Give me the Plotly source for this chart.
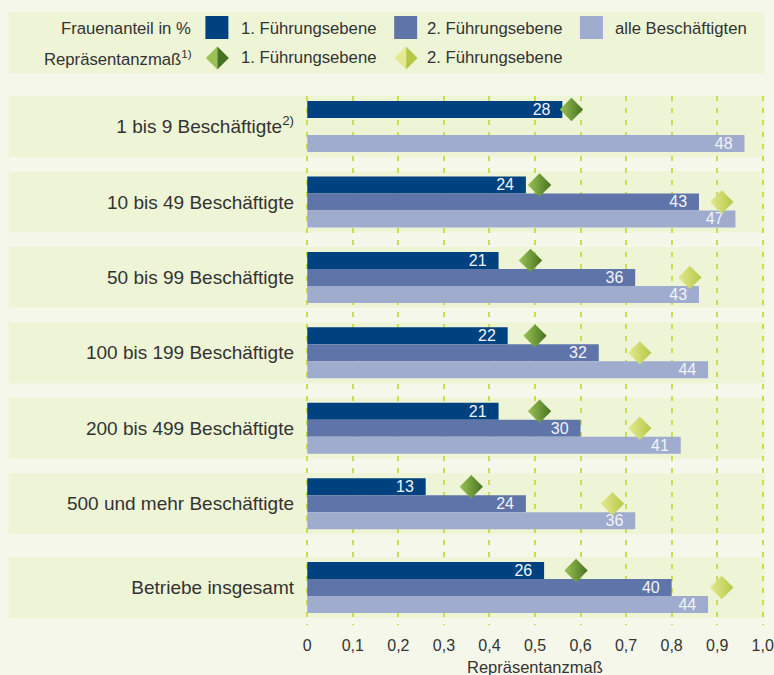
import plotly.graph_objects as go

# ---------------- data ----------------
categories = [
    "1 bis 9 Beschäftigte<sup>2)</sup>",
    "10 bis 49 Beschäftigte",
    "50 bis 99 Beschäftigte",
    "100 bis 199 Beschäftigte",
    "200 bis 499 Beschäftigte",
    "500 und mehr Beschäftigte",
    "Betriebe insgesamt",
]
share_level1 = [28, 24, 21, 22, 21, 13, 26]          # Frauenanteil in %, 1. Führungsebene
share_level2 = [None, 43, 36, 32, 30, 24, 40]        # Frauenanteil in %, 2. Führungsebene
share_all = [48, 47, 43, 44, 41, 36, 44]             # Frauenanteil in %, alle Beschäftigten
repr_level1 = [0.58, 0.51, 0.49, 0.50, 0.51, 0.36, 0.59]   # Repräsentanzmaß 1. Ebene
repr_level2 = [None, 0.91, 0.84, 0.73, 0.73, 0.67, 0.91]   # Repräsentanzmaß 2. Ebene
x_tick_vals = [0, 0.1, 0.2, 0.3, 0.4, 0.5, 0.6, 0.7, 0.8, 0.9, 1.0]
x_tick_labels = ["0", "0,1", "0,2", "0,3", "0,4", "0,5", "0,6", "0,7", "0,8", "0,9", "1,0"]
x_axis_title = "Repräsentanzmaß"
pct_axis_max = 50  # percent scale sharing the Repräsentanzmaß axis (1,0 ≙ 50 %)

# ---------------- style / geometry ----------------
W, H = 774, 675
UNIT_PX = 456                      # pixels per 1,0 on the Repräsentanzmaß axis
X0_PX = 307                        # pixel position of 0
EDGE = 0.005                       # small range padding so the edge gridlines are drawn
ML = X0_PX - EDGE * UNIT_PX
PW = (1 + 2 * EDGE) * UNIT_PX
MR = W - ML - PW
MT, MB = 96, 50
PH = H - MT - MB
FONT = "Liberation Sans, Arial, sans-serif"
TXT = "#333333"
BG = "#f5f7ea"
BAND = "#eef4d6"
GRID = "#c9dd4e"
C1, C2, C3 = "#00427f", "#5f74a8", "#9facce"
D1 = ("#9cc255", "#467321")
D2 = ("#e3ea92", "#b7c745")

total_extra_gap = 0.11
ypos = [i + (total_extra_gap if i == len(categories) - 1 else 0) for i in range(len(categories))]
band_half = 0.404
y_range = [ypos[-1] + 0.497, -band_half]
bargap = 0.324


def px(x):
    return (x - ML) / PW


def py(y):
    return (H - MB - y) / PH


fig = go.Figure()

bar_common = dict(
    orientation="h",
    textposition="inside",
    insidetextanchor="end",
    constraintext="none",
    texttemplate="%{text}\u00a0\u00a0",
    insidetextfont=dict(family=FONT, size=16, color="#f2f4fa"),
    marker_line_width=0,
    hoverinfo="skip",
    showlegend=False,
    xaxis="x",
    yaxis="y",
)
for name, vals, col, og in [
    ("1. Führungsebene", share_level1, C1, "a"),
    ("2. Führungsebene", share_level2, C2, "b"),
    ("alle Beschäftigten", share_all, C3, "c"),
]:
    fig.add_trace(go.Bar(
        name=name, x=vals, y=ypos, text=vals, marker_color=col,
        offsetgroup=og, **bar_common))

sc_common = dict(
    mode="markers", orientation="h", hoverinfo="skip", showlegend=False,
    xaxis="x2", yaxis="y", cliponaxis=False,
)
fig.add_trace(go.Scatter(
    name="Repräsentanzmaß 1. Führungsebene", x=repr_level1, y=ypos, offsetgroup="a",
    marker=dict(symbol="diamond", size=18, color=D1[0], line_width=0,
                gradient=dict(type="horizontal", color=D1[1])), **sc_common))
fig.add_trace(go.Scatter(
    name="Repräsentanzmaß 2. Führungsebene", x=repr_level2, y=ypos, offsetgroup="b",
    marker=dict(symbol="diamond", size=18, color=D2[0], line_width=0,
                gradient=dict(type="horizontal", color=D2[1])), **sc_common))
# placeholder keeping the third slot (alle Beschäftigten) for scatter grouping
fig.add_trace(go.Scatter(
    x=[None] * len(ypos), y=ypos, offsetgroup="c",
    marker=dict(size=1, opacity=0), **sc_common))

shapes = []
# legend band
shapes.append(dict(type="rect", xref="paper", yref="paper", x0=px(8), x1=px(765),
                   y0=py(73), y1=py(12), fillcolor=BAND, line_width=0, layer="below"))
# category bands
for p in ypos:
    shapes.append(dict(type="rect", xref="paper", yref="y", x0=px(8), x1=px(765),
                       y0=p - band_half, y1=p + band_half, fillcolor=BAND,
                       line_width=0, layer="below"))
# legend squares
for x0, col in [(205, C1), (394, C2), (580, C3)]:
    shapes.append(dict(type="rect", xref="paper", yref="paper", x0=px(x0), x1=px(x0 + 23),
                       y0=py(39), y1=py(16), fillcolor=col, line_width=0))


# legend diamonds (two-tone halves)
def diamond_halves(cx, cy, w, h, cols):
    out = []
    left = f"M {px(cx)},{py(cy - h / 2)} L {px(cx - w / 2)},{py(cy)} L {px(cx)},{py(cy + h / 2)} Z"
    right = f"M {px(cx)},{py(cy - h / 2)} L {px(cx + w / 2)},{py(cy)} L {px(cx)},{py(cy + h / 2)} Z"
    out.append(dict(type="path", xref="paper", yref="paper", path=left,
                    fillcolor=cols[0], line_width=0))
    out.append(dict(type="path", xref="paper", yref="paper", path=right,
                    fillcolor=cols[1], line_width=0))
    return out


shapes += diamond_halves(217, 58, 23, 23, D1)
shapes += diamond_halves(406, 58, 23, 23, D2)

ann_font = dict(family=FONT, size=16.7, color=TXT)
annotations = [
    dict(text="Frauenanteil in %", x=px(193), y=py(28), xanchor="right"),
    dict(text="Repräsentanzmaß<sup>1)</sup>", x=px(194), y=py(58), xanchor="right"),
    dict(text="1. Führungsebene", x=px(239), y=py(28), xanchor="left"),
    dict(text="2. Führungsebene", x=px(425), y=py(28), xanchor="left"),
    dict(text="alle Beschäftigten", x=px(613), y=py(28), xanchor="left"),
    dict(text="1. Führungsebene", x=px(239), y=py(58), xanchor="left"),
    dict(text="2. Führungsebene", x=px(425), y=py(58), xanchor="left"),
]
for a in annotations:
    a.update(xref="paper", yref="paper", yanchor="middle", showarrow=False, font=ann_font)
# x-axis title (placed like the original, close to the bottom edge)
annotations.append(dict(text=x_axis_title, xref="paper", yref="paper",
                        x=px(X0_PX + UNIT_PX / 2), y=py(666.5), xanchor="center",
                        yanchor="middle", showarrow=False,
                        font=dict(family=FONT, size=16.5, color=TXT)))

fig.update_layout(
    width=W, height=H,
    margin=dict(l=ML, r=MR, t=MT, b=MB, pad=0),
    paper_bgcolor=BG, plot_bgcolor="rgba(0,0,0,0)",
    barmode="group", bargap=bargap,
    scattermode="group", scattergap=bargap,
    showlegend=False,
    shapes=shapes, annotations=annotations,
    font=dict(family=FONT, color=TXT),
    xaxis=dict(range=[-EDGE * pct_axis_max, (1 + EDGE) * pct_axis_max],
               visible=False, fixedrange=True),
    xaxis2=dict(
        overlaying="x", anchor="y", side="bottom", range=[-EDGE, 1.0 + EDGE],
        tickvals=x_tick_vals, ticktext=x_tick_labels,
        tickfont=dict(family=FONT, size=16, color=TXT),
        ticklabeloverflow="allow",
        showgrid=True, gridcolor=GRID, gridwidth=1.5, griddash="5px,7px",
        zeroline=False, showline=False, ticks="", ticklabelstandoff=9,
        automargin=False,
    ),
    yaxis=dict(
        range=y_range, tickvals=ypos, ticktext=categories,
        tickfont=dict(family=FONT, size=19, color=TXT),
        showgrid=False, zeroline=False, showline=False, ticks="",
        ticklabelstandoff=10, automargin=False,
    ),
)

fig.write_html(
    "out.html",
    config={"displayModeBar": False},
    post_script="document.body.style.margin='0';document.body.style.background='" + BG + "';",
)
